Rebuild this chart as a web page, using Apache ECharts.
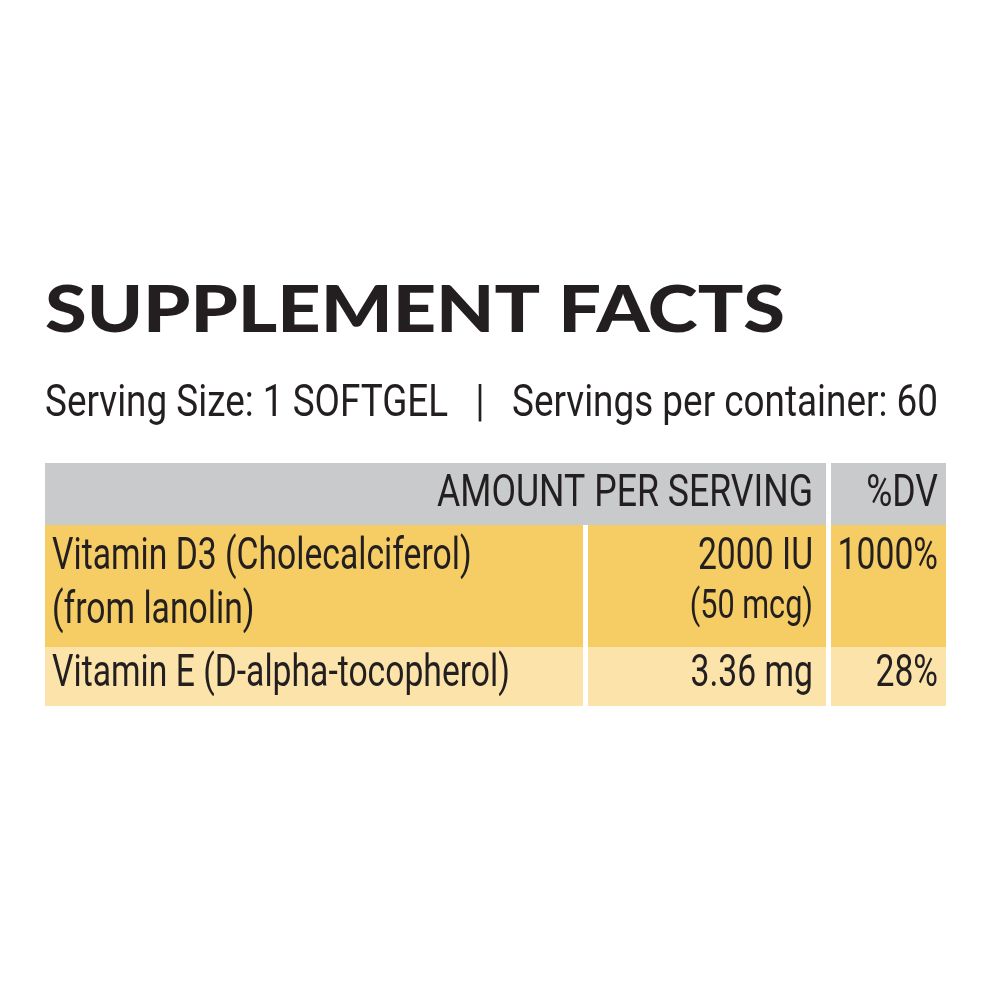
<!DOCTYPE html>
<html><head><meta charset="utf-8">
<script src="https://cdn.jsdelivr.net/npm/echarts@6/dist/echarts.min.js"></script>
<style>html,body{margin:0;background:#fff}#c{width:1000px;height:1000px}</style>
</head><body><div id="c"></div>
<script>
const title = "SUPPLEMENT FACTS";
const servingLine = "Serving Size: 1 SOFTGEL   |   Servings per container: 60";
const headers = ["AMOUNT PER SERVING", "%DV"];
const nutrients = [["Vitamin D3 (Cholecalciferol)", "(from lanolin)"], ["Vitamin E (D-alpha-tocopherol)"]];
const amounts = [["2000 IU", "(50 mcg)"], ["3.36 mg"]];
const dvs = ["1000%", "28%"];

const cv = document.createElement('canvas').getContext('2d');
function fitScale(text, font, w){ cv.font = font; return w / cv.measureText(text).width; }
const ink = '#231f20';
const FB = '44px Roboto';
const bodyScale = fitScale("Vitamin E (D-alpha-tocopherol)", FB, 458);
const FH = '44px Roboto';
const headScale = fitScale("AMOUNT PER SERVING", FH, 376);
const FS = '44px Roboto';
const subScale = fitScale(servingLine, FS, 893);
const FT = '900 64px Lato';
const titleScale = fitScale(title, FT, 740);

function txt(t, x, y, font, scale, align, size){
  return {type:'text', x:x, y:y, scaleX:scale, style:{text:t, x:0, y:0, font:font, fill:ink, align:align||'left', verticalAlign:'middle'}};
}
function rect(x,y,w,h,c){ return {type:'rect', shape:{x:x,y:y,width:w,height:h}, style:{fill:c}}; }

const g = [];
g.push(txt(title, 45, 311, FT, titleScale));
g.push(txt(servingLine, 45, 405, FS, subScale));
// table backgrounds
g.push(rect(45,463,901,62,'#c9cacc'));
g.push(rect(45,525,901,122,'#f6cd65'));
g.push(rect(45,647,901,59,'#fbe3a9'));
g.push(rect(583,525,5,181,'#ffffff'));
g.push(rect(826,463,5,243,'#ffffff'));
g.push(txt(headers[0], 813, 495, FH, headScale, 'right'));
g.push(txt(headers[1], 938, 495, FH, headScale, 'right'));
const rowY = [[558, 612], [675]];
nutrients.forEach((lines, i) => {
  lines.forEach((l, j) => g.push(txt(l, 52, rowY[i][j], FB, bodyScale)));
  amounts[i].forEach((a, j) => g.push(txt(a, 813, rowY[i][j] - (j ? 4 : 0), j ? '40px Roboto' : FB, bodyScale, 'right')));
  g.push(txt(dvs[i], 938, rowY[i][0], FB, bodyScale, 'right'));
});

const chart = echarts.init(document.getElementById('c'));
chart.setOption({backgroundColor:'#fff', animation:false, graphic:{elements:g}});
</script></body></html>
